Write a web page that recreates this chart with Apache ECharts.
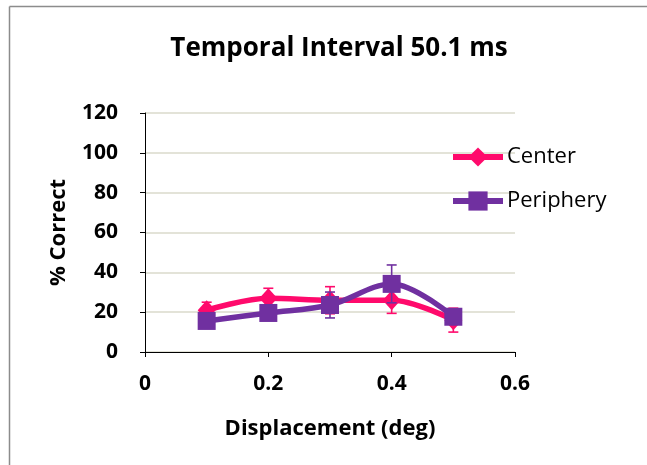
<!DOCTYPE html>
<html>
<head>
<meta charset="utf-8">
<script src="https://cdn.jsdelivr.net/npm/echarts@6/dist/echarts.min.js"></script>
<style>html,body{margin:0;padding:0;background:#fff;}#c{width:647px;height:465px;}</style>
</head>
<body>
<div id="c"></div>
<script>
var displacement = [0.1, 0.2, 0.3, 0.4, 0.5];
var centerValues = [21, 27, 26, 26, 16];
var centerErrors = [4, 5, 6.8, 6.6, 6];
var peripheryValues = [15.6, 19.6, 23.6, 34.2, 17.7];
var peripheryErrors = [1.5, 1.5, 6.5, 9.5, 1.5];
var yTicks = [0, 20, 40, 60, 80, 100, 120];
var xTicks = [0, 0.2, 0.4, 0.6];

var FONT = '"Open Sans", "Noto Sans", sans-serif';
var CENTER_COLOR = '#FF0A6C';
var PERIPH_COLOR = '#7030A0';

function pairs(v) { return displacement.map(function (x, i) { return [x, v[i]]; }); }
function errData(v, e) { return displacement.map(function (x, i) { return [x, v[i] - e[i], v[i] + e[i]]; }); }
function errRender(color) {
  return function (params, api) {
    var lo = api.coord([api.value(0), api.value(1)]);
    var hi = api.coord([api.value(0), api.value(2)]);
    var w = 5;
    var st = { stroke: color, lineWidth: 1.6 };
    return { type: 'group', children: [
      { type: 'line', shape: { x1: lo[0], y1: lo[1], x2: hi[0], y2: hi[1] }, style: st },
      { type: 'line', shape: { x1: lo[0] - w, y1: lo[1], x2: lo[0] + w, y2: lo[1] }, style: st },
      { type: 'line', shape: { x1: hi[0] - w, y1: hi[1], x2: hi[0] + w, y2: hi[1] }, style: st }
    ]};
  };
}

var chart = echarts.init(document.getElementById('c'), null, { renderer: 'canvas' });
chart.setOption({
  animation: false,
  backgroundColor: '#fff',
  textStyle: { fontFamily: FONT },
  title: {
    text: 'Temporal Interval 50.1 ms',
    left: 334, top: 31, textAlign: 'center',
    textStyle: { fontFamily: FONT, fontSize: 26, fontWeight: 'bold', color: '#000' }
  },
  graphic: [
    { type: 'line', shape: { x1: 9.5, y1: 6.5, x2: 647, y2: 6.5 }, style: { stroke: '#8c8c8c', lineWidth: 1.5 } },
    { type: 'line', shape: { x1: 9.5, y1: 6.5, x2: 9.5, y2: 465 }, style: { stroke: '#8c8c8c', lineWidth: 1.5 } }
  ],
  legend: {
    orient: 'vertical', left: 445, top: 141, itemGap: 22,
    itemWidth: 50, itemHeight: 24,
    lineStyle: { width: 6 },
    textStyle: { fontFamily: FONT, fontSize: 22, color: '#000', padding: [0, 0, 0, -1] },
    data: ['Center', 'Periphery']
  },
  grid: { left: 145, right: 132, top: 113, bottom: 113 },
  xAxis: {
    type: 'value', min: 0, max: 0.6, interval: 0.2,
    name: 'Displacement (deg)', nameLocation: 'middle', nameGap: 66,
    nameTextStyle: { fontFamily: FONT, fontSize: 22, fontWeight: 'bold', color: '#000' },
    axisLine: { show: true, lineStyle: { color: '#000', width: 1 } },
    axisTick: { show: true, inside: false, length: 5, lineStyle: { color: '#000' } },
    axisLabel: { margin: 22, fontFamily: FONT, fontSize: 21, fontWeight: 'bold', color: '#000',
      formatter: function (v) { var t = xTicks.filter(function (k) { return Math.abs(k - v) < 1e-9; }); return t.length ? String(t[0]) : ''; } },
    splitLine: { show: false }
  },
  yAxis: {
    type: 'value', min: 0, max: 120, interval: 20,
    name: '% Correct', nameLocation: 'middle', nameGap: 75,
    nameTextStyle: { fontFamily: FONT, fontSize: 22, fontWeight: 'bold', color: '#000' },
    axisLine: { show: true, lineStyle: { color: '#000', width: 1 } },
    axisTick: { show: true, inside: false, length: 5, lineStyle: { color: '#000' } },
    axisLabel: { margin: 27, fontFamily: FONT, fontSize: 21, fontWeight: 'bold', color: '#000',
      formatter: function (v) { return yTicks.indexOf(v) >= 0 ? String(v) : ''; } },
    splitLine: { show: true, lineStyle: { color: '#DADACB', width: 1.5 } }
  },
  series: [
    { name: 'CenterErr', type: 'custom', renderItem: errRender(CENTER_COLOR), data: errData(centerValues, centerErrors), z: 1, silent: true },
    { name: 'PeriphErr', type: 'custom', renderItem: errRender(PERIPH_COLOR), data: errData(peripheryValues, peripheryErrors), z: 3, silent: true },
    { name: 'Center', type: 'line', data: pairs(centerValues), smooth: 0.35,
      symbol: 'diamond', symbolSize: [18, 20],
      lineStyle: { color: CENTER_COLOR, width: 5.5 }, itemStyle: { color: CENTER_COLOR }, z: 2 },
    { name: 'Periphery', type: 'line', data: pairs(peripheryValues), smooth: 0.35,
      symbol: 'rect', symbolSize: [18, 18],
      lineStyle: { color: PERIPH_COLOR, width: 5.5 }, itemStyle: { color: PERIPH_COLOR }, z: 4 }
  ]
});
</script>
</body>
</html>
